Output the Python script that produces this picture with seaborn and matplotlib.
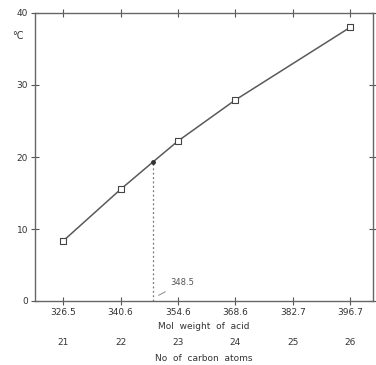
import numpy as np
import pandas as pd
import matplotlib.pyplot as plt
import seaborn as sns

# melting point vs mol weight of acid
mol_weight = [326.5, 340.6, 354.6, 368.6, 396.7]
temp_c = [8.3, 15.5, 22.2, 27.9, 38.0]
interp_x = 348.5
interp_y = 19.3
tick_pos = [326.5, 340.6, 354.6, 368.6, 382.7, 396.7]
tick_labels = ["326.5", "340.6", "354.6", "368.6", "382.7", "396.7"]
carbon_atoms = ["21", "22", "23", "24", "25", "26"]

sns.set_style("ticks")
plt.rcParams['font.family'] = ['DejaVu Sans']

df = pd.DataFrame({"mw": mol_weight, "t": temp_c})
line_x = mol_weight[:2] + [interp_x] + mol_weight[2:]
line_y = temp_c[:2] + [interp_y] + temp_c[2:]
dfl = pd.DataFrame({"mw": line_x, "t": line_y})

fig = plt.figure(figsize=(3.76, 3.65), dpi=100)
ax = fig.add_axes([35/376, 1 - 301/365, 338/376, 288/365])

grey = "#5a5a5a"
sns.lineplot(data=dfl, x="mw", y="t", ax=ax, color=grey, lw=1.1)
sns.scatterplot(data=df, x="mw", y="t", ax=ax, marker="s", s=16,
                facecolor="white", edgecolor="#444444", linewidth=0.8, zorder=3)
ax.plot([interp_x], [interp_y], "o", color="#333333", ms=2.5, zorder=3)
ax.plot([interp_x, interp_x], [0, interp_y], ls=(0, (1.5, 2)), color="#777777", lw=0.9)
ax.annotate("348.5", xy=(interp_x + 0.8, 0.6), xytext=(interp_x + 4.3, 2.2),
            fontsize=6, color="#555555",
            arrowprops=dict(arrowstyle="-", color="#777777", lw=0.6))

ax.set_xlim(319.7, 402.3)
ax.set_ylim(0, 40)
ax.set_xticks(tick_pos)
ax.set_xticklabels(tick_labels, fontsize=6.5, color="#333333")
ax.set_yticks([0, 10, 20, 30, 40])
ax.set_yticklabels(["0", "10", "20", "30", "40"], fontsize=6.5, color="#333333")
ax.tick_params(direction="inout", length=6, width=0.8, colors="#555555",
               labelcolor="#333333", top=True, right=True, pad=2)
ax.set_xlabel("")
ax.set_ylabel("")
for s in ax.spines.values():
    s.set_color("#666666")
    s.set_linewidth(1.0)

for p, c in zip(tick_pos, carbon_atoms):
    ax.text(p, -5.8, c, ha="center", va="center", fontsize=6.5, color="#333333")
ax.text(0.5, -0.09, "Mol  weight  of  acid", transform=ax.transAxes,
        ha="center", va="center", fontsize=6.5, color="#333333")
ax.text(0.5, -0.198, "No  of  carbon  atoms", transform=ax.transAxes,
        ha="center", va="center", fontsize=6.5, color="#333333")
ax.text(-0.05, 0.92, "°C", transform=ax.transAxes, ha="center", va="center",
        fontsize=7, color="#333333")

fig.savefig("out.png", dpi=100, facecolor="white")
